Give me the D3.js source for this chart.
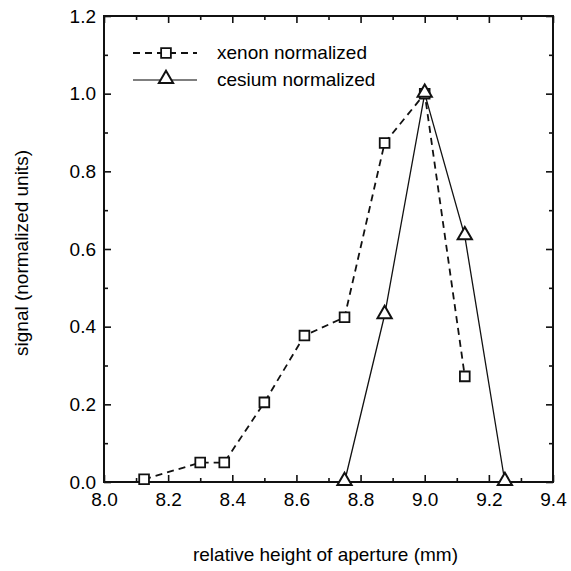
<!DOCTYPE html>
<html>
<head>
<meta charset="utf-8">
<script src="https://cdn.jsdelivr.net/npm/d3@7"></script>
<style>
  html, body { margin: 0; padding: 0; background: #fff; }
  svg { display: block; }
  text { font-family: "Liberation Sans", Arial, Helvetica, sans-serif; fill: #000; }
</style>
</head>
<body>
<svg id="chart" width="571" height="571"></svg>
<script>
// Aperture scan: normalized signals vs. relative aperture height
const xenonX = [8.125, 8.30, 8.375, 8.50, 8.625, 8.75, 8.875, 9.00, 9.125];
const xenonY = [0.007, 0.05, 0.05, 0.205, 0.377, 0.424, 0.873, 1.00, 0.272];
const cesiumX = [8.75, 8.875, 9.00, 9.125, 9.25];
const cesiumY = [0.0, 0.43, 1.00, 0.633, 0.0];

const xMajor = [8.0, 8.2, 8.4, 8.6, 8.8, 9.0, 9.2, 9.4];
const xMinor = [8.1, 8.3, 8.5, 8.7, 8.9, 9.1, 9.3];
const yMajor = [0.0, 0.2, 0.4, 0.6, 0.8, 1.0, 1.2];
const yMinor = [0.1, 0.3, 0.5, 0.7, 0.9, 1.1];

const seriesNames = ["xenon normalized", "cesium normalized"];
const xTitle = "relative height of aperture (mm)";
const yTitle = "signal (normalized units)";

const svg = d3.select("#chart");
const L = 104, R = 553, T = 16, B = 482;

const x = d3.scaleLinear().domain([8.0, 9.4]).range([L, R]);
const y = d3.scaleLinear().domain([0, 1.2]).range([B, T]);

const fmt = d3.format(".1f");
const FS = 19;

// Major ticks with labels (bottom, left), pointing inward
svg.append("g").attr("transform", `translate(0,${B})`)
  .call(d3.axisBottom(x).tickValues(xMajor).tickFormat(fmt).tickSizeInner(-7).tickSizeOuter(0).tickPadding(11));
svg.append("g").attr("transform", `translate(${L},0)`)
  .call(d3.axisLeft(y).tickValues(yMajor).tickFormat(fmt).tickSizeInner(-7).tickSizeOuter(0).tickPadding(8));

// Minor ticks
svg.append("g").attr("transform", `translate(0,${B})`)
  .call(d3.axisBottom(x).tickValues(xMinor).tickFormat("").tickSizeInner(-4).tickSizeOuter(0));
svg.append("g").attr("transform", `translate(${L},0)`)
  .call(d3.axisLeft(y).tickValues(yMinor).tickFormat("").tickSizeInner(-4).tickSizeOuter(0));

// Mirrored ticks on top and right
svg.append("g").attr("transform", `translate(0,${T})`)
  .call(d3.axisTop(x).tickValues(xMajor).tickFormat("").tickSizeInner(-7).tickSizeOuter(0));
svg.append("g").attr("transform", `translate(0,${T})`)
  .call(d3.axisTop(x).tickValues(xMinor).tickFormat("").tickSizeInner(-4).tickSizeOuter(0));
svg.append("g").attr("transform", `translate(${R},0)`)
  .call(d3.axisRight(y).tickValues(yMajor).tickFormat("").tickSizeInner(-7).tickSizeOuter(0));
svg.append("g").attr("transform", `translate(${R},0)`)
  .call(d3.axisRight(y).tickValues(yMinor).tickFormat("").tickSizeInner(-4).tickSizeOuter(0));

svg.selectAll(".domain").remove();
svg.selectAll(".tick line").attr("stroke", "#111").attr("stroke-width", 1.6);
svg.selectAll(".tick text").attr("font-size", FS).attr("fill", "#000");

// Plot frame
svg.append("rect")
  .attr("x", L).attr("y", T).attr("width", R - L).attr("height", B - T)
  .attr("fill", "none").attr("stroke", "#111").attr("stroke-width", 2);

// Axis titles
svg.append("text")
  .attr("x", (L + R) / 2 - 3).attr("y", 561)
  .attr("text-anchor", "middle").attr("font-size", FS)
  .text(xTitle);
svg.append("text")
  .attr("transform", "translate(28,253) rotate(-90)")
  .attr("text-anchor", "middle").attr("font-size", FS)
  .text(yTitle);

const xenon = xenonX.map((v, i) => [v, xenonY[i]]);
const cesium = cesiumX.map((v, i) => [v, cesiumY[i]]);
const line = d3.line().x(d => x(d[0])).y(d => y(d[1]));

// Cesium: thin solid line with open triangles
svg.append("path").datum(cesium)
  .attr("d", line).attr("fill", "none")
  .attr("stroke", "#111").attr("stroke-width", 1.3);

// Xenon: dashed line with open squares
svg.append("path").datum(xenon)
  .attr("d", line).attr("fill", "none")
  .attr("stroke", "#111").attr("stroke-width", 1.8)
  .attr("stroke-dasharray", "7,5");

const sq = d3.symbol().type(d3.symbolSquare).size(95);
const tri = d3.symbol().type(d3.symbolTriangle).size(88);

svg.append("g").selectAll("path").data(xenon).join("path")
  .attr("transform", d => `translate(${x(d[0])},${y(d[1])})`)
  .attr("d", sq).attr("fill", "#fff").attr("stroke", "#111").attr("stroke-width", 1.8);

svg.append("g").selectAll("path").data(cesium).join("path")
  .attr("transform", d => `translate(${x(d[0])},${y(d[1]) - 1})`)
  .attr("d", tri).attr("fill", "#fff").attr("stroke", "#111").attr("stroke-width", 2);

// Legend
const lg = svg.append("g");
const lx0 = 133, lx1 = 197, lmx = 166;
lg.append("line").attr("x1", lx0).attr("x2", lx1).attr("y1", 53).attr("y2", 53)
  .attr("stroke", "#111").attr("stroke-width", 1.8).attr("stroke-dasharray", "7,5");
lg.append("path").attr("transform", `translate(${lmx},53)`).attr("d", sq)
  .attr("fill", "#fff").attr("stroke", "#111").attr("stroke-width", 1.8);
lg.append("line").attr("x1", lx0).attr("x2", lx1).attr("y1", 80).attr("y2", 80)
  .attr("stroke", "#555").attr("stroke-width", 1.3);
lg.append("path").attr("transform", `translate(${lmx},79)`).attr("d", tri)
  .attr("fill", "#fff").attr("stroke", "#111").attr("stroke-width", 2);
lg.append("text").attr("x", 217).attr("y", 59).attr("font-size", FS).text(seriesNames[0]);
lg.append("text").attr("x", 217).attr("y", 86).attr("font-size", FS).text(seriesNames[1]);
</script>
</body>
</html>
